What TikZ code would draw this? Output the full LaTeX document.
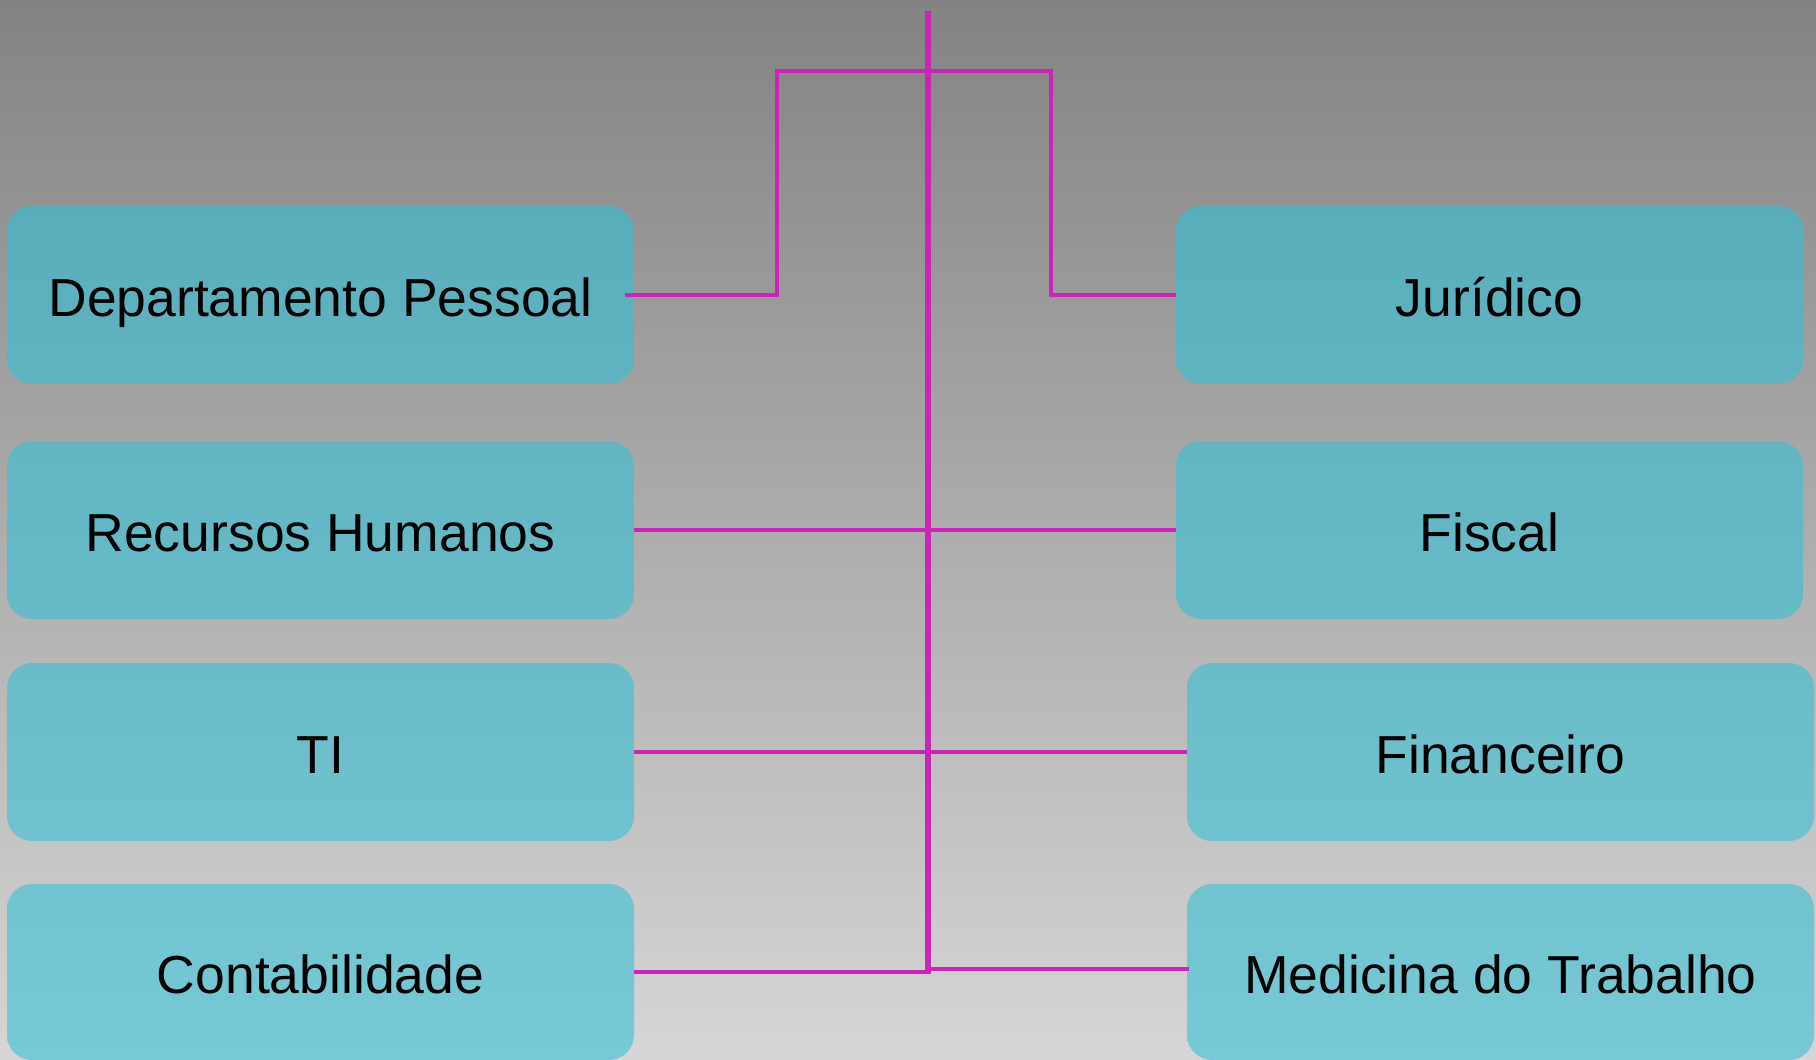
\documentclass[tikz,border=0pt]{standalone}
\usepackage{fontspec}
\setmainfont{Liberation Sans}
\definecolor{bgtop}{RGB}{131,131,131}
\definecolor{bgbot}{RGB}{214,214,214}
\definecolor{lnk}{RGB}{200,38,180}
\definecolor{ca}{RGB}{90,173,186}
\definecolor{cb}{RGB}{96,179,192}
\definecolor{cc}{RGB}{98,181,193}
\definecolor{cd}{RGB}{103,186,199}
\definecolor{ce}{RGB}{105,188,200}
\definecolor{cf}{RGB}{111,194,206}
\definecolor{cg}{RGB}{112,195,207}
\definecolor{ch}{RGB}{118,201,213}
\tikzset{
  deptbox/.style={rectangle, rounded corners=25pt, minimum width=627pt,
    minimum height=178pt, inner sep=0pt, text height=42pt, text depth=0pt,
    font=\fontsize{53.5pt}{60pt}\selectfont, text=black},
  row1/.style={top color=ca, bottom color=cb},
  row2/.style={top color=cc, bottom color=cd},
  row3/.style={top color=ce, bottom color=cf},
  row4/.style={top color=cg, bottom color=ch, minimum height=176pt},
  link/.style={draw=lnk, line width=4.5pt},
  trunkline/.style={draw=lnk, line width=6pt}
}
\begin{document}
\begin{tikzpicture}[x=1pt, y=-1pt]
\useasboundingbox (0,0) rectangle (1816,1060);
\shade[top color=bgtop, bottom color=bgbot] (0,0) rectangle (1816,1060);

\node[deptbox,row1] (DP) at (320.5,295) {Departamento Pessoal};
\node[deptbox,row2] (RH) at (320.5,530) {Recursos Humanos};
\node[deptbox,row3] (TI) at (320.5,752) {TI};
\node[deptbox,row4] (CO) at (320.5,972) {Contabilidade};
\node[deptbox,row1] (JU) at (1489.5,295) {Jurídico};
\node[deptbox,row2] (FS) at (1489.5,530) {Fiscal};
\node[deptbox,row3] (FN) at (1500.5,752) {Financeiro};
\node[deptbox,row4] (MT) at (1500.5,972) {Medicina do Trabalho};

\coordinate (ttop) at (928,11);
\coordinate (tbot) at (928,972);
\coordinate (hubL) at (777,71);
\coordinate (hubR) at (1051,71);

\draw[link] ([xshift=-9pt]DP.east) -| (hubL) -- (hubR) |- (JU.west);
\draw[link] (RH.east) -- (FS.west);
\draw[link] (TI.east) -- (FN.west);
\draw[link] (CO.east) -- (tbot);
\draw[link] ([yshift=3pt]tbot) -- ([yshift=3pt,xshift=2pt]MT.west);
\draw[trunkline] (ttop) -- ([yshift=-2.25pt]tbot);
\end{tikzpicture}
\end{document}
